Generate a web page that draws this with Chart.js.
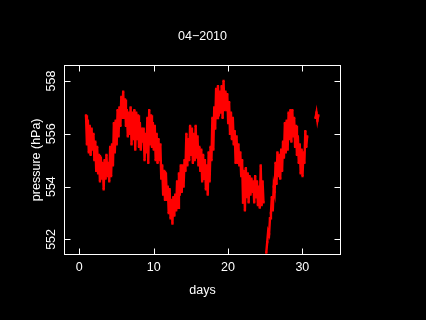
<!DOCTYPE html>
<html>
<head>
<meta charset="utf-8">
<script src="https://cdn.jsdelivr.net/npm/chart.js@4.4.1/dist/chart.umd.min.js"></script>
<style>
  html, body { margin: 0; padding: 0; background: #000; }
  #wrap { width: 426px; height: 320px; }
</style>
</head>
<body>
<div id="wrap"><canvas id="chartPressure" width="426" height="320"></canvas></div>
<script>
// === Datos ===
const chartTitle = "04\u22122010";
const xLabel = "days";
const yLabel = "pressure (hPa)";
const xTicks = [0, 10, 20, 30];
const yTicks = [552, 554, 556, 558];

// muestreo cada 3 h desde el dia 0.9
const firstDay = 0.9;
const stepDays = 0.125;
const pressure = [
  556.7, 555.6, 556.5, 555.3, 556.3, 555.2, 556.2, 555.4, 556.0, 555.0,
  555.7, 554.6, 555.5, 554.5, 555.2, 554.2, 555.1, 554.3, 554.9, 553.9,
  555.0, 554.3, 555.2, 554.4, 554.9, 554.2, 555.5, 554.4, 555.6, 554.8,
  556.4, 555.3, 556.5, 555.6, 556.9, 555.9, 557.0, 556.3, 557.4, 556.6,
  557.6, 556.6, 557.3, 556.3, 556.9, 555.9, 556.8, 556.0, 557.0, 555.6,
  556.8, 555.8, 556.9, 555.4, 556.8, 555.8, 556.7, 555.5, 556.4, 555.4,
  556.2, 555.7, 556.2, 555.0, 556.0, 555.3, 556.6, 554.9, 556.9, 555.6,
  556.7, 555.5, 556.4, 555.4, 556.3, 555.0, 556.0, 554.9, 555.8, 555.0,
  555.6, 554.3, 554.8, 553.7, 554.6, 553.5, 554.5, 553.5, 554.0, 553.0,
  553.9, 552.8, 553.5, 552.6, 553.6, 552.9, 553.7, 553.1, 554.2, 553.2,
  554.5, 553.7, 554.8, 553.8, 554.8, 554.0, 555.0, 554.6, 556.0, 554.8,
  555.8, 555.0, 556.3, 555.2, 556.2, 554.9, 556.0, 555.0, 556.3, 555.1,
  555.9, 554.8, 555.5, 554.6, 555.4, 554.2, 555.2, 554.3, 555.0, 553.9,
  554.8, 553.7, 555.3, 554.2, 555.5, 555.0, 556.6, 555.4, 557.0, 556.2,
  557.7, 556.6, 557.8, 556.7, 557.6, 556.8, 557.8, 556.6, 558.0, 556.9,
  557.6, 556.9, 557.5, 556.4, 557.2, 556.0, 556.8, 555.8, 556.6, 555.6,
  556.1, 554.9, 555.9, 554.9, 555.6, 554.8, 555.3, 554.4, 555.0, 553.4,
  554.6, 553.1, 554.7, 553.6, 554.5, 553.4, 554.4, 553.7, 554.3, 553.8,
  554.2, 553.4, 554.4, 553.6, 554.2, 553.3, 554.0, 553.2, 554.8, 553.3,
  554.2, 553.4, null, null, 551.5, 551.9, 552.3, 552.2, 552.8, 553.0,
  553.6, 553.1, 554.0, 553.8, 554.9, 554.1, 555.3, 554.4, 555.2, 554.3,
  555.4, 554.6, 555.7, 555.1, 556.4, 555.3, 556.5, 555.4, 556.8, 555.8,
  556.9, 555.7, 556.9, 555.9, 556.6, 555.5, 556.3, 555.2, 555.9, 554.9,
  555.6, 554.5, 555.4, 554.4, 555.3, 554.9, 556.1, 555.5, 555.9, null,
  null, null, null, null, null, null, null, 556.6, 556.8, 556.5,
  556.7
];

const puntos = pressure.map((p, i) => ({ x: firstDay + i * stepDays, y: p }));

const FONT = { family: "'Liberation Sans', Arial, sans-serif", size: 12.5, weight: "normal" };

// === Marco, ticks hacia dentro y etiquetas del eje y ===
const marco = {
  id: "marco",
  beforeDraw(chart) {
    const ctx = chart.ctx;
    ctx.save();
    ctx.fillStyle = "#000";
    ctx.fillRect(0, 0, chart.width, chart.height);
    ctx.restore();
  },
  afterDraw(chart) {
    const { ctx, chartArea: a, scales } = chart;
    const L = Math.round(a.left) + 0.5, R = Math.round(a.right) - 0.5;
    const T = Math.round(a.top) + 0.5, B = Math.round(a.bottom) - 0.5;
    const tick = 6;
    ctx.save();
    ctx.strokeStyle = "#fff";
    ctx.lineWidth = 1;
    ctx.strokeRect(L, T, R - L, B - T);
    ctx.beginPath();
    xTicks.forEach(v => {
      const px = Math.round(scales.x.getPixelForValue(v)) + 0.5;
      ctx.moveTo(px, B); ctx.lineTo(px, B - tick);
      ctx.moveTo(px, T); ctx.lineTo(px, T + tick);
    });
    yTicks.forEach(v => {
      const py = Math.round(scales.y.getPixelForValue(v)) + 0.5;
      ctx.moveTo(L, py); ctx.lineTo(L + tick, py);
      ctx.moveTo(R, py); ctx.lineTo(R - tick, py);
    });
    ctx.stroke();

    ctx.fillStyle = "#fff";
    ctx.font = FONT.size + "px " + FONT.family;
    ctx.textAlign = "center";
    ctx.textBaseline = "middle";
    yTicks.forEach(v => {
      const py = scales.y.getPixelForValue(v);
      ctx.save();
      ctx.translate(52, py);
      ctx.rotate(-Math.PI / 2);
      ctx.fillText(String(v), 0, 0);
      ctx.restore();
    });
    ctx.restore();
  }
};

new Chart(document.getElementById("chartPressure"), {
  type: "line",
  data: {
    datasets: [{
      data: puntos,
      borderColor: "#ff0000",
      backgroundColor: "#ff0000",
      borderWidth: 2.4,
      pointStyle: "rect",
      pointRadius: 1.6,
      pointBorderWidth: 0,
      spanGaps: false,
      tension: 0
    }]
  },
  options: {
    responsive: false,
    animation: false,
    layout: { padding: { left: 0, right: 85, top: 0, bottom: 0 } },
    plugins: {
      legend: { display: false },
      tooltip: { enabled: false },
      title: {
        display: true,
        text: chartTitle,
        color: "#fff",
        fullSize: false,
        font: FONT,
        padding: { top: 28.8, bottom: 20.8 }
      }
    },
    scales: {
      x: {
        type: "linear",
        min: -2.06,
        max: 35.2,
        afterBuildTicks: s => { s.ticks = xTicks.map(v => ({ value: v })); },
        afterFit: s => { s.height = 65; },
        grid: { display: false, drawTicks: false },
        border: { display: false },
        ticks: { color: "#fff", font: FONT, padding: 5, maxRotation: 0 },
        title: { display: true, text: xLabel, color: "#fff", font: FONT, padding: { top: 0, bottom: 22 } }
      },
      y: {
        type: "linear",
        min: 551.41,
        max: 558.62,
        afterBuildTicks: s => { s.ticks = yTicks.map(v => ({ value: v })); },
        afterFit: s => { s.width = 64; },
        grid: { display: false, drawTicks: false },
        border: { display: false },
        ticks: { display: false },
        title: { display: true, text: yLabel, color: "#fff", font: FONT, padding: { top: 28.8, bottom: 0 } }
      }
    }
  },
  plugins: [marco]
});
</script>
</body>
</html>
